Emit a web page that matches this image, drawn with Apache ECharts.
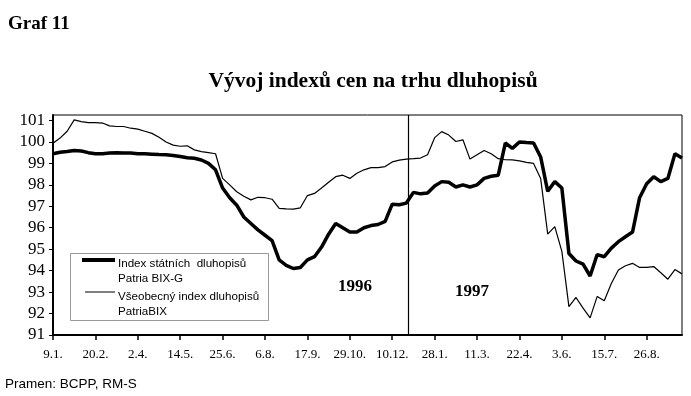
<!DOCTYPE html>
<html>
<head>
<meta charset="utf-8">
<script src="https://cdn.jsdelivr.net/npm/echarts@6/dist/echarts.min.js"></script>
<style>html,body{margin:0;padding:0;background:#fff;}#c{width:691px;height:396px;}</style>
</head>
<body>
<div id="c"></div>
<script>
// Tick labels (one every 6 weekly observations)
const xTickLabels = ['9.1.', '20.2.', '2.4.', '14.5.', '25.6.', '6.8.', '17.9.', '29.10.', '10.12.', '28.1.', '11.3.', '22.4.', '3.6.', '15.7.', '26.8.'];
const yTickValues = [91, 92, 93, 94, 95, 96, 97, 98, 99, 100, 101];
const seriesNames = ['Index státních  dluhopisů\nPatria BIX-G', 'Všeobecný index dluhopisů\nPatriaBIX'];
const yearLabels = ['1996', '1997'];
const yearBreak = 50.3; // position of the year separator in weekly index units

// Weekly values, Patria BIX-G (thick line)
const bixG = [99.45, 99.52, 99.55, 99.6, 99.58, 99.5, 99.45, 99.45, 99.48, 99.5,
  99.48, 99.48, 99.45, 99.45, 99.43, 99.41, 99.4, 99.37, 99.32, 99.26,
  99.24, 99.16, 99.0, 98.7, 97.85, 97.4, 97.05, 96.5, 96.2, 95.9,
  95.65, 95.4, 94.5, 94.25, 94.1, 94.15, 94.5, 94.65, 95.1, 95.7,
  96.2, 96.0, 95.8, 95.8, 96.0, 96.1, 96.15, 96.3, 97.1, 97.07,
  97.15, 97.65, 97.58, 97.62, 97.95, 98.15, 98.12, 97.9, 98.0, 97.9,
  98.0, 98.3, 98.4, 98.45, 99.95, 99.7, 100.0, 99.97, 99.95, 99.3,
  97.7, 98.15, 97.85, 94.8, 94.45, 94.3, 93.75, 94.75, 94.65, 95.05,
  95.35, 95.58, 95.8, 97.4, 98.05, 98.38, 98.15, 98.3, 99.45, 99.25];

// Weekly values, PatriaBIX (thin line)
const bix = [99.94, 100.18, 100.5, 101.03, 100.95, 100.9, 100.9, 100.88, 100.75, 100.72,
  100.72, 100.64, 100.6, 100.5, 100.4, 100.22, 100.0, 99.85, 99.8, 99.82,
  99.63, 99.55, 99.5, 99.45, 98.3, 98.0, 97.68, 97.47, 97.3, 97.42,
  97.4, 97.33, 96.9, 96.88, 96.87, 96.93, 97.5, 97.6, 97.85, 98.12,
  98.38, 98.45, 98.3, 98.54, 98.7, 98.8, 98.8, 98.85, 99.07, 99.15,
  99.2, 99.22, 99.25, 99.4, 100.2, 100.48, 100.32, 100.02, 100.1, 99.2,
  99.4, 99.6, 99.45, 99.22, 99.17, 99.16, 99.12, 99.05, 99.0, 98.3,
  95.7, 96.05, 94.9, 92.32, 92.75, 92.25, 91.8, 92.8, 92.6, 93.4,
  94.03, 94.23, 94.34, 94.15, 94.15, 94.19, 93.9, 93.6, 94.05, 93.85];

const tickStep = 6;
const xTickValues = xTickLabels.map((_, i) => i * tickStep);
const toPairs = arr => arr.map((v, i) => [i, v]);

const serif = 'Liberation Serif';
const sans = 'Liberation Sans';

const chart = echarts.init(document.getElementById('c'), null, {renderer: 'canvas'});
chart.setOption({
  animation: false,
  backgroundColor: '#fff',
  grid: {left: 53, right: 9, top: 115, bottom: 61, show: true, borderColor: '#000', borderWidth: 1, backgroundColor: 'transparent'},
  xAxis: {
    type: 'value', min: 0, max: bixG.length - 1,
    axisLine: {show: true, onZero: false, lineStyle: {color: '#000', width: 2}},
    axisTick: {show: true, length: 5, lineStyle: {color: '#000', width: 1.5}, customValues: xTickValues},
    axisLabel: {customValues: xTickValues, formatter: v => xTickLabels[Math.round(v / tickStep)] || '',
      fontFamily: serif, fontSize: 13, color: '#000', margin: 13},
    splitLine: {show: false}
  },
  yAxis: {
    type: 'value', min: 91, max: 101.256,
    axisLine: {show: true, onZero: false, lineStyle: {color: '#000', width: 2}},
    axisTick: {show: true, length: 4, lineStyle: {color: '#000', width: 1}, customValues: yTickValues},
    axisLabel: {customValues: yTickValues, fontFamily: serif, fontSize: 17, color: '#000', margin: 8},
    splitLine: {show: false}
  },
  series: [
    {name: seriesNames[0], type: 'line', data: toPairs(bixG), showSymbol: false, symbol: 'none',
      lineStyle: {color: '#000', width: 3.5}, z: 3,
      markLine: {silent: true, symbol: 'none', label: {show: false},
        lineStyle: {color: '#000', width: 1.2, type: 'solid'}, data: [{xAxis: yearBreak}]}},
    {name: seriesNames[1], type: 'line', data: toPairs(bix), showSymbol: false, symbol: 'none',
      lineStyle: {color: '#000', width: 1.2}, z: 2}
  ],
  graphic: [
    {type: 'text', left: 8, top: 15, style: {text: 'Graf 11', fontFamily: serif, fontWeight: 'bold', fontSize: 19, fill: '#000'}},
    {type: 'text', x: 373, y: 81, style: {text: 'Vývoj indexů cen na trhu dluhopisů', fontFamily: serif, fontWeight: 'bold', fontSize: 21.5, fill: '#000', align: 'center', verticalAlign: 'middle'}},
    {type: 'text', x: 5, y: 384, style: {text: 'Pramen: BCPP, RM-S', fontFamily: sans, fontSize: 13.5, fill: '#000', verticalAlign: 'middle'}},
    {type: 'text', x: 338, y: 287, style: {text: yearLabels[0], fontFamily: serif, fontWeight: 'bold', fontSize: 17, fill: '#000', verticalAlign: 'middle'}},
    {type: 'text', x: 455, y: 292, style: {text: yearLabels[1], fontFamily: serif, fontWeight: 'bold', fontSize: 17, fill: '#000', verticalAlign: 'middle'}},
    {type: 'rect', shape: {x: 70.5, y: 253.5, width: 198, height: 67}, style: {fill: '#fff', stroke: '#999', lineWidth: 1}},
    {type: 'line', shape: {x1: 82, y1: 260, x2: 115, y2: 260}, style: {stroke: '#000', lineWidth: 4}},
    {type: 'line', shape: {x1: 85, y1: 292, x2: 115, y2: 292}, style: {stroke: '#000', lineWidth: 1}},
    {type: 'text', x: 118, y: 255.8, style: {text: seriesNames[0], fontFamily: sans, fontSize: 11.6, lineHeight: 15, fill: '#000', verticalAlign: 'top'}},
    {type: 'text', x: 118, y: 289.2, style: {text: seriesNames[1], fontFamily: sans, fontSize: 11.6, lineHeight: 15, fill: '#000', verticalAlign: 'top'}}
  ]
});
</script>
</body>
</html>
